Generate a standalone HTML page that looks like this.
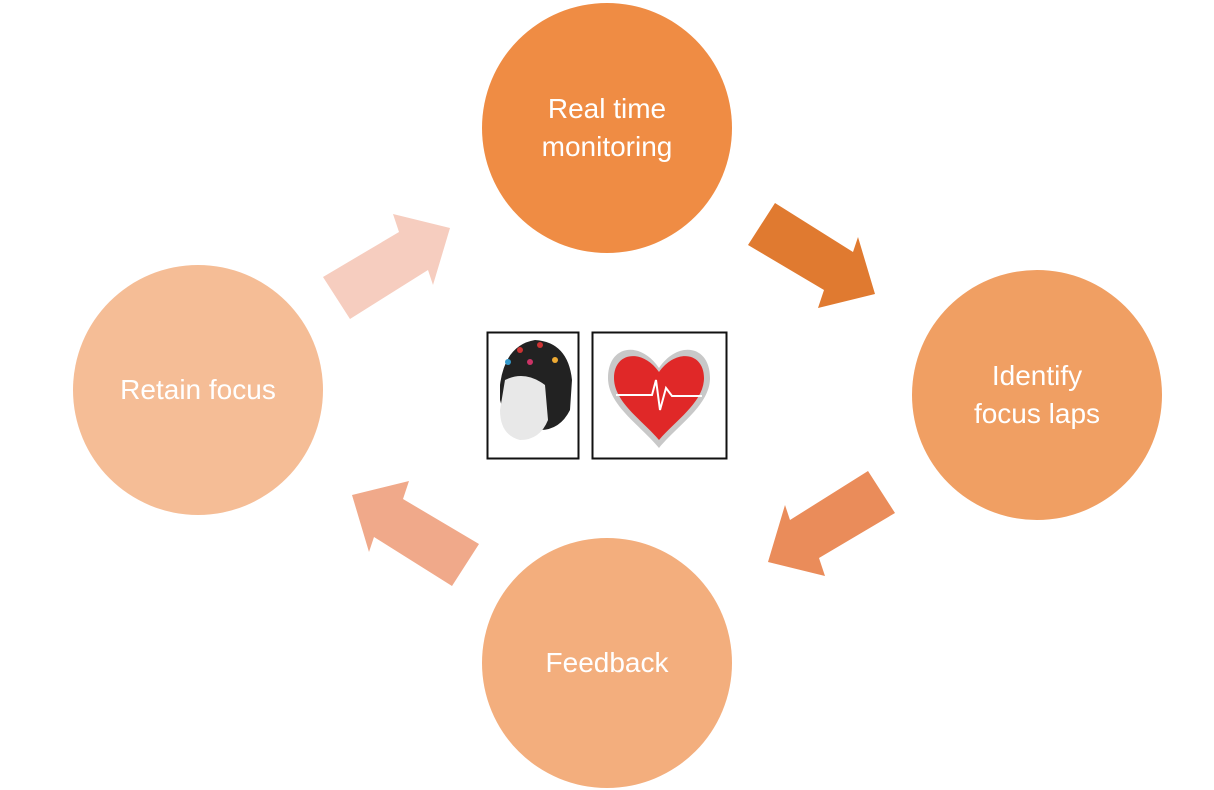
<!DOCTYPE html>
<html><head><style>
html,body{margin:0;padding:0;background:#fff;}
body{width:1214px;height:790px;position:relative;overflow:hidden;font-family:"Liberation Sans",sans-serif;}
.c{position:absolute;width:250px;height:250px;border-radius:50%;display:flex;align-items:center;justify-content:center;text-align:center;color:#fff;font-size:28px;line-height:38px;}
</style></head><body>
<svg width="1214" height="790" style="position:absolute;left:0;top:0">
<polygon fill="#e07a30" points="775,203 853,252 858,237 875,294 818,308 824,290 748,245"/>
<g transform="translate(1643,268) scale(-1,1)"><polygon fill="#ea8c5a" points="775,203 853,252 858,237 875,294 818,308 824,290 748,245"/></g>
<g transform="translate(1227,789) scale(-1,-1)"><polygon fill="#f0a98a" points="775,203 853,252 858,237 875,294 818,308 824,290 748,245"/></g>
<g transform="translate(-425,522) scale(1,-1)"><polygon fill="#f6cdbf" points="775,203 853,252 858,237 875,294 818,308 824,290 748,245"/></g>
<rect x="487.5" y="332.5" width="91" height="126" fill="#fff" stroke="#111" stroke-width="2"/>
<rect x="592.5" y="332.5" width="134" height="126" fill="#fff" stroke="#111" stroke-width="2"/>
<path d="M500,385 Q505,345 535,340 Q568,342 572,380 L570,410 Q560,430 540,430 L520,435 Q505,420 500,400Z" fill="#222"/>
<path d="M505,380 Q525,370 545,385 L548,420 Q540,440 520,440 Q500,435 500,410Z" fill="#e8e8e8"/>
<circle cx="520" cy="350" r="3" fill="#c33"/><circle cx="540" cy="345" r="3" fill="#c33"/><circle cx="555" cy="360" r="3" fill="#ea3"/><circle cx="508" cy="362" r="3" fill="#39c"/><circle cx="530" cy="362" r="3" fill="#c36"/>
<path d="M659,368 C640,340 608,345 608,378 C608,405 640,425 659,448 C678,425 710,405 710,378 C710,345 678,340 659,368Z" fill="#c8c8c8"/>
<path d="M659,372 C642,348 614,352 614,378 C614,402 642,420 659,440 C676,420 704,402 704,378 C704,352 676,348 659,372Z" fill="#e02828"/>
<polyline points="616,395 652,395 656,380 660,410 666,388 672,396 702,396" fill="none" stroke="#fff" stroke-width="2"/>
</svg>
<div class="c" style="left:482px;top:3px;background:#ef8c44">Real time<br>monitoring</div>
<div class="c" style="left:912px;top:270px;background:#f09f63">Identify<br>focus laps</div>
<div class="c" style="left:482px;top:538px;background:#f3ae7d">Feedback</div>
<div class="c" style="left:73px;top:265px;background:#f5bd96">Retain focus</div>
</body></html>
